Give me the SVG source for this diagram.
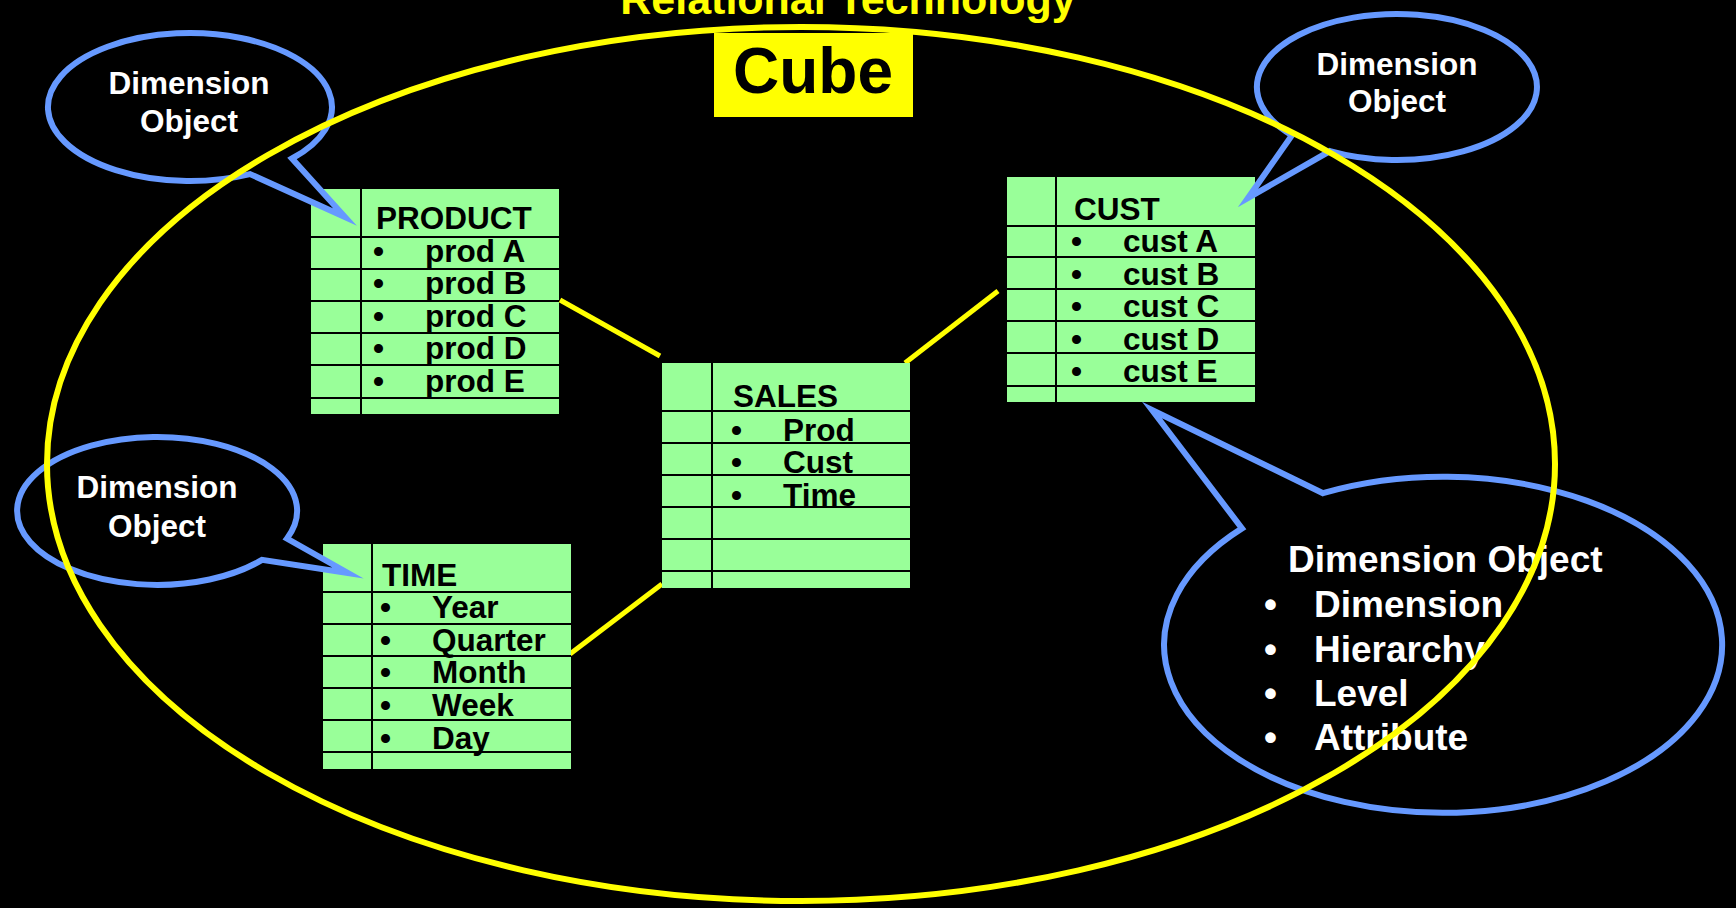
<svg xmlns="http://www.w3.org/2000/svg" width="1736" height="908" viewBox="0 0 1736 908">
  <style>
    .bg { fill: #000000; }
    .tbl { fill: #99FF99; }
    .grid { stroke: #000000; stroke-width: 2; fill: none; }
    .tt { font-family: "Liberation Sans", Arial, sans-serif; font-weight: bold; font-size: 31.5px; fill: #000000; }
    .bubble { fill: #000000; stroke: #6699FF; stroke-width: 6; stroke-linejoin: miter; stroke-miterlimit: 10; }
    .bt { font-family: "Liberation Sans", Arial, sans-serif; font-weight: bold; font-size: 31.5px; fill: #FFFFFF; text-anchor: middle; }
    .bt2 { font-family: "Liberation Sans", Arial, sans-serif; font-weight: bold; font-size: 37px; fill: #FFFFFF; }
    .link { stroke: #FFFF00; stroke-width: 5; fill: none; }
  </style>

  <rect class="bg" x="0" y="0" width="1736" height="908"/>

  <!-- Title -->
  <text id="title" x="848" y="14" text-anchor="middle" font-family="Liberation Sans, Arial, sans-serif" font-weight="bold" font-size="43" fill="#FFFF00">Relational Technology</text>

  <!-- Connectors between dimension tables and the fact table -->
  <g id="connectors">
    <line class="link" x1="560" y1="300" x2="660" y2="356"/>
    <line class="link" x1="905" y1="363" x2="998" y2="291"/>
    <line class="link" x1="570" y1="654" x2="662" y2="584"/>
  </g>

  <!-- PRODUCT table -->
  <g id="product">
    <rect class="tbl" x="311" y="189" width="248" height="225"/>
    <path class="grid" d="M361,189 V414 M311,237 H559 M311,269 H559 M311,301 H559 M311,333 H559 M311,365 H559 M311,398 H559"/>
    <text class="tt" x="376" y="229">PRODUCT</text>
    <text class="tt" x="373" y="262">•</text><text class="tt" x="425" y="262">prod A</text>
    <text class="tt" x="373" y="294">•</text><text class="tt" x="425" y="294">prod B</text>
    <text class="tt" x="373" y="327">•</text><text class="tt" x="425" y="327">prod C</text>
    <text class="tt" x="373" y="359">•</text><text class="tt" x="425" y="359">prod D</text>
    <text class="tt" x="373" y="392">•</text><text class="tt" x="425" y="392">prod E</text>
  </g>

  <!-- CUST table -->
  <g id="cust">
    <rect class="tbl" x="1007" y="177" width="248" height="225"/>
    <path class="grid" d="M1056,177 V402 M1007,226 H1255 M1007,257 H1255 M1007,289 H1255 M1007,321 H1255 M1007,353 H1255 M1007,386 H1255"/>
    <text class="tt" x="1074" y="220">CUST</text>
    <text class="tt" x="1071" y="252">•</text><text class="tt" x="1123" y="252">cust A</text>
    <text class="tt" x="1071" y="285">•</text><text class="tt" x="1123" y="285">cust B</text>
    <text class="tt" x="1071" y="317">•</text><text class="tt" x="1123" y="317">cust C</text>
    <text class="tt" x="1071" y="350">•</text><text class="tt" x="1123" y="350">cust D</text>
    <text class="tt" x="1071" y="382">•</text><text class="tt" x="1123" y="382">cust E</text>
  </g>

  <!-- SALES fact table -->
  <g id="sales">
    <rect class="tbl" x="662" y="363" width="248" height="225"/>
    <path class="grid" d="M712,363 V588 M662,411 H910 M662,443 H910 M662,475 H910 M662,507 H910 M662,539 H910 M662,571 H910"/>
    <text class="tt" x="733" y="407">SALES</text>
    <text class="tt" x="731" y="441">•</text><text class="tt" x="783" y="441">Prod</text>
    <text class="tt" x="731" y="473">•</text><text class="tt" x="783" y="473">Cust</text>
    <text class="tt" x="731" y="506">•</text><text class="tt" x="783" y="506">Time</text>
  </g>

  <!-- TIME table -->
  <g id="time">
    <rect class="tbl" x="323" y="544" width="248" height="225"/>
    <path class="grid" d="M372,544 V769 M323,592 H571 M323,624 H571 M323,656 H571 M323,688 H571 M323,720 H571 M323,752 H571"/>
    <text class="tt" x="382" y="586">TIME</text>
    <text class="tt" x="380" y="618">•</text><text class="tt" x="432" y="618">Year</text>
    <text class="tt" x="380" y="651">•</text><text class="tt" x="432" y="651">Quarter</text>
    <text class="tt" x="380" y="683">•</text><text class="tt" x="432" y="683">Month</text>
    <text class="tt" x="380" y="716">•</text><text class="tt" x="432" y="716">Week</text>
    <text class="tt" x="380" y="749">•</text><text class="tt" x="432" y="749">Day</text>
  </g>

  <!-- Speech bubbles -->
  <g id="callout-product">
    <path class="bubble" d="M250,174.1 A142,74 0 1 1 292,158.5 L345,217 Z"/>
    <text class="bt" x="189" y="94">Dimension</text>
    <text class="bt" x="189" y="132">Object</text>
  </g>

  <g id="callout-time">
    <path class="bubble" d="M262,559.9 A140,74 0 1 1 287,538.5 L348,573 Z"/>
    <text class="bt" x="157" y="498">Dimension</text>
    <text class="bt" x="157" y="537">Object</text>
  </g>

  <g id="callout-cust">
    <path class="bubble" d="M1292,135.3 A140,73 0 1 1 1330,151.1 L1248,198 Z"/>
    <text class="bt" x="1397" y="75">Dimension</text>
    <text class="bt" x="1397" y="112">Object</text>
  </g>

  <g id="callout-detail">
    <path class="bubble" d="M1323,493.2 A279,168 0 1 1 1242,528.4 L1152,410 Z"/>
    <text class="bt2" x="1288" y="572">Dimension Object</text>
    <text class="bt2" x="1264" y="617">•</text><text class="bt2" x="1314" y="617">Dimension</text>
    <text class="bt2" x="1264" y="662">•</text><text class="bt2" x="1314" y="662">Hierarchy</text>
    <text class="bt2" x="1264" y="706">•</text><text class="bt2" x="1314" y="706">Level</text>
    <text class="bt2" x="1264" y="750">•</text><text class="bt2" x="1314" y="750">Attribute</text>
  </g>

  <!-- Cube boundary -->
  <g id="cube">
    <ellipse cx="801" cy="464" rx="754" ry="437" fill="none" stroke="#FFFF00" stroke-width="6"/>
    <rect x="714" y="33" width="199" height="84" fill="#FFFF00"/>
    <text x="813" y="93" text-anchor="middle" font-family="Liberation Sans, Arial, sans-serif" font-weight="bold" font-size="64" fill="#000000">Cube</text>
  </g>
</svg>
